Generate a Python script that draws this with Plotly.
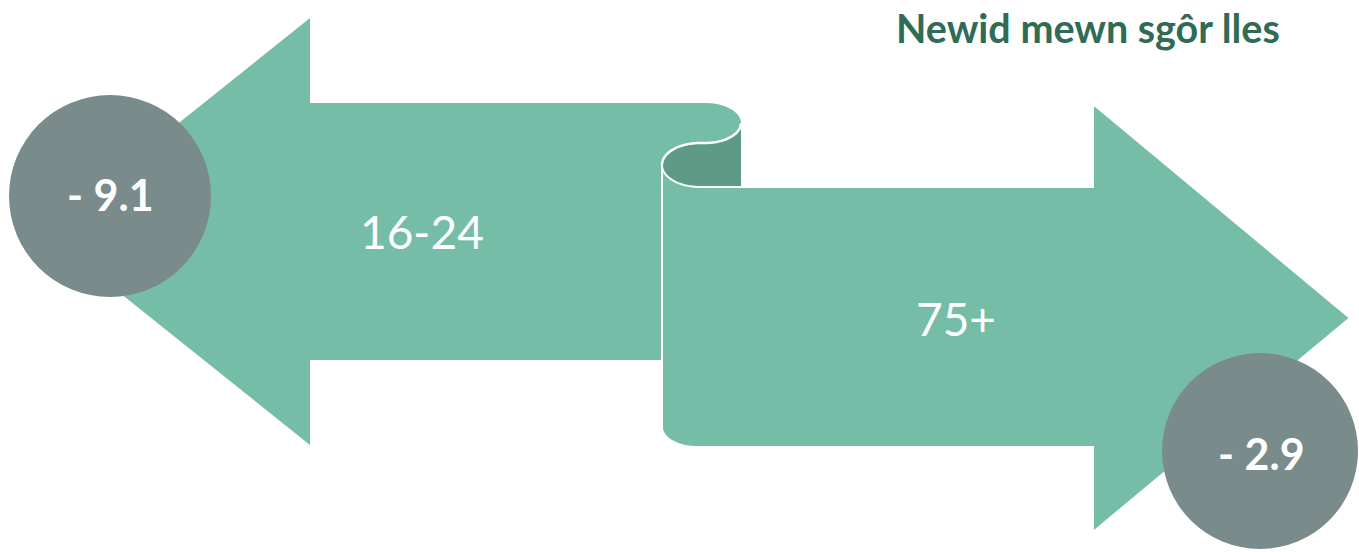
import numpy as np
import plotly.graph_objects as go

# ---- data ----
groups = ["16-24", "75+"]
changes = [-9.1, -2.9]
title_text = "Newid mewn sgôr lles"

# ---- style / layout constants ----
W, H = 1359, 552
GREEN = "#76BDA8"
DARK = "#5E9A86"
GREY = "#7A8B8B"
TITLE = "#2F6B55"
FONT = "Lato"


def arc(cx, cy, rx, ry, a0, a1, n=40):
    t = np.radians(np.linspace(a0, a1, n))
    return list(zip(cx + rx * np.cos(t), cy + ry * np.sin(t)))


def path(pts, close=True):
    s = "M " + " L ".join(f"{x:.2f},{y:.2f}" for x, y in pts)
    return s + (" Z" if close else "")


# ellipses of the scroll curl
E1 = (705, 123, 36, 20)   # top curl
E2 = (700, 165, 38, 22)   # roll end

left_ribbon = ([(43, 231.5), (310, 18), (310, 103), (705, 103)]
               + arc(*E1, -90, 90)
               + [(700, 143)]
               + arc(*E2, 270, 180)
               + [(662, 360), (310, 360), (310, 445)])

dark_roll = (arc(*E2, 180, 270) + arc(*E1, 90, 0)
             + [(741, 187), (700, 187)] + arc(*E2, 90, 180))

right_ribbon = ([(700, 187), (1093, 187), (1093, 104), (1350, 318),
                 (1093, 532), (1093, 447), (697, 447)]
                + arc(697, 427, 35, 20, 90, 180)
                + [(662, 165)] + arc(*E2, 180, 90))

s_curve = arc(*E2, 180, 270) + arc(*E1, 90, 0)

shapes = [
    dict(type="path", path=path(left_ribbon), fillcolor=GREEN,
         line=dict(width=0), xref="x", yref="y"),
    dict(type="path", path=path(dark_roll), fillcolor=DARK,
         line=dict(width=0), xref="x", yref="y"),
    dict(type="path", path=path(right_ribbon), fillcolor=GREEN,
         line=dict(color="white", width=2), xref="x", yref="y"),
    dict(type="path", path=path(s_curve, close=False),
         line=dict(color="white", width=2.5), xref="x", yref="y"),
    dict(type="circle", x0=110 - 101, x1=110 + 101, y0=196 - 101, y1=196 + 101,
         fillcolor=GREY, line=dict(width=0), xref="x", yref="y"),
    dict(type="circle", x0=1260 - 98, x1=1260 + 98, y0=451 - 98, y1=451 + 98,
         fillcolor=GREY, line=dict(width=0), xref="x", yref="y"),
]

label_pos = [(422, 231), (956, 318)]
value_pos = [(110, 194), (1261, 453)]

annotations = []
for g, (x, y) in zip(groups, label_pos):
    annotations.append(dict(x=x, y=y, text=g, showarrow=False,
                            font=dict(family=FONT, size=46, color="white"),
                            xref="x", yref="y"))
for v, (x, y) in zip(changes, value_pos):
    txt = f"<b>{'-' if v < 0 else '+'} {abs(v):.1f}</b>"
    annotations.append(dict(x=x, y=y, text=txt, showarrow=False,
                            font=dict(family=FONT, size=43, color="white"),
                            xref="x", yref="y"))
annotations.append(dict(x=1088, y=27, text=f"<b>{title_text}</b>", showarrow=False,
                        font=dict(family=FONT, size=39.5, color=TITLE),
                        xref="x", yref="y"))

fig = go.Figure()
fig.update_layout(
    width=W, height=H,
    margin=dict(l=0, r=0, t=0, b=0),
    paper_bgcolor="white", plot_bgcolor="white",
    xaxis=dict(range=[0, W], visible=False, fixedrange=True),
    yaxis=dict(range=[H, 0], visible=False, fixedrange=True),
    shapes=shapes, annotations=annotations, showlegend=False,
)
fig.write_html("out.html", config={"displayModeBar": False})
